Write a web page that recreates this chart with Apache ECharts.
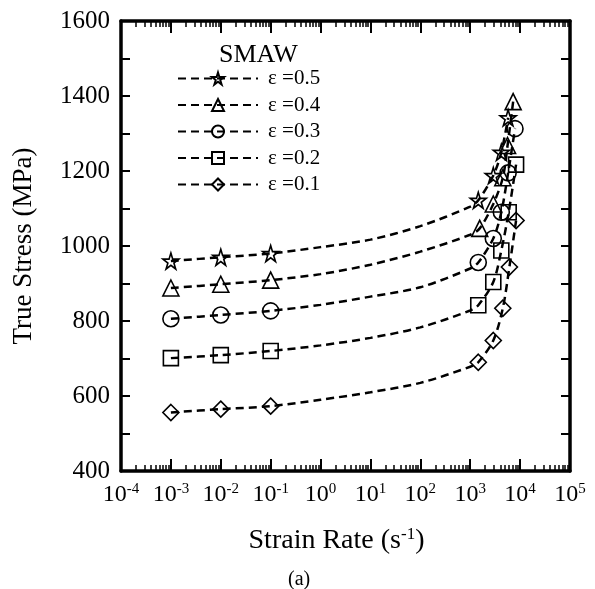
<!DOCTYPE html>
<html><head><meta charset="utf-8">
<script src="https://cdn.jsdelivr.net/npm/echarts@6/dist/echarts.min.js"></script>
<style>html,body{margin:0;padding:0;background:#fff}#c{width:595px;height:589px}</style>
</head><body><div id="c"></div>
<script>
// ---- data ----
const seriesNames = ['ε =0.5', 'ε =0.4', 'ε =0.3', 'ε =0.2', 'ε =0.1'];
const xExponents = ['-4', '-3', '-2', '-1', '0', '1', '2', '3', '4', '5'];
const yTicks = [400, 600, 800, 1000, 1200, 1400, 1600];

// measured points (strain rate s^-1, true stress MPa)
const rate05 = [0.001, 0.01, 0.1, 1450, 2900, 4200, 5750];
const stress05 = [960, 970, 980, 1122, 1188, 1250, 1342];
const rate04 = [0.001, 0.01, 0.1, 1550, 2900, 4500, 5600, 7250];
const stress04 = [888, 898, 909, 1047, 1112, 1182, 1268, 1385];
const rate03 = [0.001, 0.01, 0.1, 1450, 2900, 4200, 5750, 7900];
const stress03 = [806, 816, 827, 956, 1020, 1090, 1195, 1313];
const rate02 = [0.001, 0.01, 0.1, 1450, 2900, 4200, 5900, 8300];
const stress02 = [701, 709, 720, 842, 904, 988, 1090, 1217];
const rate01 = [0.001, 0.01, 0.1, 1450, 2900, 4500, 6100, 8300];
const stress01 = [556, 565, 573, 690, 748, 834, 944, 1068];

const fitRate = [1, 10, 100, 1000];
const fit05 = [997, 1017, 1053, 1105];
const fit04 = [925, 950, 985, 1030];
const fit03 = [843, 865, 890, 940];
const fit02 = [735, 755, 783, 828];
const fit01 = [590, 610, 635, 678];

// ---- build ----
const starPath = 'path://M50,0 L61,35 L98,35 L68,57 L79,91 L50,70 L21,91 L32,57 L2,35 L39,35 Z';
const groups = [
  {name: seriesNames[0], r: rate05, s: stress05, f: fit05, symbol: starPath, size: 16},
  {name: seriesNames[1], r: rate04, s: stress04, f: fit04, symbol: 'triangle', size: 16},
  {name: seriesNames[2], r: rate03, s: stress03, f: fit03, symbol: 'circle', size: 16},
  {name: seriesNames[3], r: rate02, s: stress02, f: fit02, symbol: 'rect', size: 15},
  {name: seriesNames[4], r: rate01, s: stress01, f: fit01, symbol: 'diamond', size: 16}
];
const FONT = 'Liberation Serif';
const series = groups.map(g => {
  const pts = [];
  g.r.forEach((r, i) => pts.push({value: [r, g.s[i]]}));
  fitRate.forEach((r, i) => pts.push({value: [r, g.f[i]], symbol: 'none'}));
  pts.sort((a, b) => a.value[0] - b.value[0]);
  return {
    type: 'line', name: g.name, data: pts, smooth: 0.3,
    symbol: g.symbol, symbolSize: g.size, showSymbol: true,
    lineStyle: {color: '#000', width: 2.5, type: [8, 5]},
    itemStyle: {color: 'rgba(0,0,0,0)', borderColor: '#000', borderWidth: 1.6},
    emphasis: {disabled: true}, z: 3
  };
});

const axisCommon = {
  axisLine: {show: true, onZero: false, lineStyle: {color: '#000', width: 3.5}},
  splitLine: {show: false}
};
const chart = echarts.init(document.getElementById('c'), null, {renderer: 'canvas'});
chart.setOption({
  animation: false,
  backgroundColor: '#fff',
  grid: {left: 121, right: 25, top: 21, bottom: 118},
  title: [
    {text: 'SMAW', left: 214, top: 37, textStyle: {fontFamily: FONT, fontSize: 26, fontWeight: 'normal', color: '#000'}},
    {text: '(a)', left: 283, top: 565, textStyle: {fontFamily: FONT, fontSize: 20, fontWeight: 'normal', color: '#000'}}
  ],
  legend: {
    orient: 'vertical', left: 172, top: 63, itemWidth: 80, itemHeight: 15, itemGap: 5.5,
    data: seriesNames,
    textStyle: {fontFamily: FONT, fontSize: 21, color: '#000', lineHeight: 20, padding: [0, 0, 0, 5]}
  },
  xAxis: [
    Object.assign({
      type: 'log', logBase: 10, min: 1e-4, max: 1e5, position: 'bottom',
      axisTick: {show: true, inside: true, length: 12, lineStyle: {color: '#000', width: 2}},
      minorTick: {show: true, splitNumber: 9, length: 6, lineStyle: {color: '#000', width: 1.5}},
      axisLabel: {
        margin: 11, color: '#000',
        formatter: v => {
          const e = Math.round(Math.log10(v));
          return '{b|10}{s|' + xExponents[e + 4] + '}';
        },
        rich: {
          b: {fontFamily: FONT, fontSize: 24, color: '#000'},
          s: {fontFamily: FONT, fontSize: 15, color: '#000', verticalAlign: 'top', padding: [0, 0, 11, 0]}
        }
      },
      name: '{n|Strain Rate (s}{s|-1}{n|)}', nameLocation: 'middle', nameGap: 55,
      nameTextStyle: {
        padding: [0, 18, 0, 0],
        rich: {
          n: {fontFamily: FONT, fontSize: 28, color: '#000'},
          s: {fontFamily: FONT, fontSize: 17, color: '#000', padding: [0, 0, 13, 0]}
        }
      }
    }, axisCommon),
    Object.assign({
      type: 'log', logBase: 10, min: 1e-4, max: 1e5, position: 'top',
      axisTick: {show: true, inside: true, length: 12, lineStyle: {color: '#000', width: 2}},
      minorTick: {show: true, splitNumber: 9, length: 6, lineStyle: {color: '#000', width: 1.5}},
      axisLabel: {show: false}
    }, axisCommon)
  ],
  yAxis: [
    Object.assign({
      type: 'value', min: 400, max: 1600, interval: 200, position: 'left',
      axisTick: {show: true, inside: true, length: 9, lineStyle: {color: '#000', width: 2}},
      minorTick: {show: true, splitNumber: 2, length: 9, lineStyle: {color: '#000', width: 2}},
      axisLabel: {margin: 11, color: '#000', fontFamily: FONT, fontSize: 25,
        formatter: v => yTicks.indexOf(v) >= 0 ? String(v) : ''},
      name: 'True Stress (MPa)', nameLocation: 'middle', nameGap: 84, nameRotate: 90,
      nameTextStyle: {fontFamily: FONT, fontSize: 27, color: '#000'}
    }, axisCommon),
    Object.assign({
      type: 'value', min: 400, max: 1600, interval: 200, position: 'right',
      axisTick: {show: true, inside: true, length: 9, lineStyle: {color: '#000', width: 2}},
      minorTick: {show: true, splitNumber: 2, length: 9, lineStyle: {color: '#000', width: 2}},
      axisLabel: {show: false}
    }, axisCommon)
  ],
  series: series
});
</script></body></html>
